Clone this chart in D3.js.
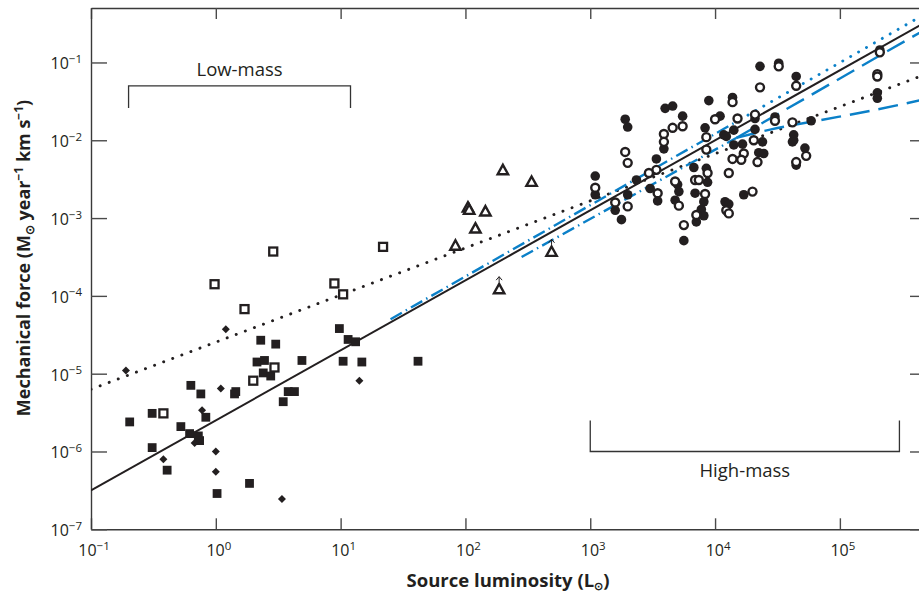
<!DOCTYPE html>
<html>
<head>
<meta charset="utf-8">
<script src="https://cdn.jsdelivr.net/npm/d3@7"></script>
<style>
  body { margin: 0; background: #fff; }
  svg { display: block; font-family: "Open Sans", "Noto Sans", sans-serif; }
</style>
</head>
<body>
<svg id="chart" width="919" height="595"></svg>
<script>
// All source values are [log10 L (Lsun), log10 F (Msun yr^-1 km s^-1)].

// Low-mass sources
const lowFilledSquares = [
  [-0.69,-5.62],[-0.51,-5.51],[-0.51,-5.95],[-0.39,-6.24],[-0.28,-5.68],[-0.20,-5.15],
  [-0.12,-5.26],[-0.21,-5.77],[-0.14,-5.80],[-0.13,-5.86],[-0.08,-5.56],[0.01,-6.54],
  [0.15,-5.26],[0.16,-5.23],[0.27,-6.41],[0.36,-4.57],[0.48,-4.62],[0.33,-4.85],
  [0.39,-4.83],[0.38,-4.99],[0.44,-5.03],[0.54,-5.36],[0.58,-5.23],[0.63,-5.23],
  [0.69,-4.83],[0.99,-4.42],[1.06,-4.56],[1.12,-4.59],[1.02,-4.84],[1.17,-4.85],
  [1.62,-4.84]
];
const lowOpenSquares = [
  [-0.42,-5.51],[-0.01,-3.85],[0.23,-4.17],[0.30,-5.09],[0.46,-3.43],[0.47,-4.92],
  [0.95,-3.84],[1.02,-3.98],[1.34,-3.37]
];
const lowDiamonds = [
  [-0.72,-4.96],[-0.42,-6.10],[-0.11,-5.47],[-0.17,-5.89],[0.04,-5.19],[0.00,-6.00],
  [0.00,-6.26],[0.08,-4.43],[0.53,-6.61],[1.15,-5.09]
];

// Intermediate sources (open triangles); the last two are lower limits
const midTriangles = [
  [1.92,-3.36],[2.02,-2.87],[2.03,-2.90],[2.08,-3.14],[2.16,-2.92],[2.30,-2.39],[2.53,-2.54]
];
const midTriangleLimits = [
  [2.27,-3.92],[2.69,-3.44]
];

// High-mass sources
const highFilledCircles = [
  [4.36,-1.05],[4.51,-1.01],[4.65,-1.18],[5.32,-0.84],[5.30,-1.39],[5.30,-1.46],
  [3.28,-1.73],[3.30,-1.83],[3.60,-1.59],[3.66,-1.56],[3.74,-1.69],[3.95,-1.49],
  [4.14,-1.45],[3.59,-2.11],[3.53,-2.24],[3.37,-2.51],[3.04,-2.46],[3.04,-2.70],
  [3.20,-2.90],[3.25,-3.02],[3.30,-2.70],[3.48,-2.62],[3.54,-2.78],[3.70,-2.57],
  [3.71,-2.66],[3.68,-2.77],[3.75,-3.29],[3.83,-2.35],[3.84,-2.68],[3.91,-2.79],
  [3.89,-2.89],[3.91,-2.97],[3.85,-3.05],[3.93,-2.36],[3.94,-2.54],[3.92,-1.84],
  [4.04,-1.69],[4.07,-1.93],[4.09,-1.95],[4.15,-1.87],[4.15,-2.06],[4.22,-2.05],
  [4.32,-1.72],[4.32,-1.86],[4.38,-2.02],[4.35,-2.16],[4.39,-2.17],[4.08,-2.79],
  [4.11,-2.82],[4.23,-2.70],[4.48,-1.70],[4.63,-1.93],[4.63,-2.00],[4.62,-2.02],
  [4.77,-1.75],[4.72,-2.10],[4.65,-2.32]
];
const highOpenCircles = [
  [4.51,-1.05],[4.65,-1.30],[4.36,-1.32],[5.32,-0.87],[5.30,-1.15],[5.30,-1.18],
  [4.14,-1.51],[3.59,-1.92],[3.66,-1.84],[3.74,-1.82],[3.59,-2.02],[3.28,-2.15],
  [3.30,-2.29],[3.53,-2.38],[3.47,-2.42],[3.04,-2.61],[3.20,-2.80],[3.30,-2.85],
  [3.54,-2.68],[3.68,-2.53],[3.71,-2.84],[3.75,-3.09],[3.84,-2.51],[3.87,-2.51],
  [3.92,-2.69],[3.85,-2.96],[3.94,-2.42],[3.93,-2.12],[3.93,-1.96],[4.00,-1.73],
  [4.18,-1.72],[4.23,-2.17],[4.21,-2.25],[4.14,-2.24],[4.32,-1.67],[4.31,-2.00],
  [4.34,-2.28],[4.11,-2.42],[4.09,-2.90],[4.11,-2.94],[4.30,-2.66],[4.48,-1.75],
  [4.62,-1.77],[4.73,-2.20],[4.65,-2.28]
];

// Relations, as [log10 L, log10 F] vertices
const fitSolid  = [[-1.00,-6.50],[5.69,-0.48]];
const fitDotted = [[-1.00,-5.20],[5.69,-1.15]];
// Upper model track: dash-dot phase, then dotted phase
const trackUpperEarly = [[1.40,-4.30],[4.20,-1.735]];
const trackUpperLate  = [[4.20,-1.735],[5.69,-0.37]];
// Lower model track: dash-dot phase, then two dashed branches
const trackLowerEarly = [[2.45,-3.50],[4.17,-1.97]];
const trackLowerHigh  = [[4.17,-1.97],[5.69,-0.57]];
const trackLowerFlat  = [[4.17,-1.97],[4.45,-1.86],[4.85,-1.74],[5.25,-1.62],[5.69,-1.47]];

// Axis ticks (powers of ten) and the mass-regime brackets
const xTickExps = [-1, 0, 1, 2, 3, 4, 5];
const yTickExps = [-7, -6, -5, -4, -3, -2, -1];
const lowMassRange  = { label: "Low-mass",  L: [0.2, 12],  F: 5e-2, legF: 2.6e-2 };
const highMassRange = { label: "High-mass", L: [1e3, 3e5], F: 1e-6, legF: 2.5e-6 };

const svg = d3.select("#chart");
const plot = { left: 91, right: 926, top: 8, bottom: 529.3 };

const x = d3.scaleLog().domain([0.1, Math.pow(10, 5.69)]).range([plot.left, plot.right]);
const y = d3.scaleLog().domain([1e-7, Math.pow(10, -0.3)]).range([plot.bottom, plot.top]);

const px = d => x(Math.pow(10, d[0]));
const py = d => y(Math.pow(10, d[1]));

const ink = "#231f20";
const blue = "#0b80c8";

svg.append("defs").append("clipPath").attr("id", "plotClip")
  .append("rect")
  .attr("x", plot.left).attr("y", plot.top)
  .attr("width", plot.right - plot.left).attr("height", plot.bottom - plot.top);

// Axes: ticks pointing inward on all four sides
const noLabel = () => "";
const axisStyle = g => {
  g.select(".domain").attr("stroke", "#3a3a3a").attr("stroke-width", 1.4);
  g.selectAll(".tick line").attr("stroke", "#4a4a4a").attr("stroke-width", 1.4);
};
const xVals = xTickExps.map(e => Math.pow(10, e));
const yVals = yTickExps.map(e => Math.pow(10, e));

svg.append("g").attr("transform", `translate(0,${plot.bottom})`)
  .call(d3.axisBottom(x).tickValues(xVals).tickSizeInner(-11).tickSizeOuter(0).tickFormat(noLabel))
  .call(axisStyle);
svg.append("g").attr("transform", `translate(0,${plot.top})`)
  .call(d3.axisTop(x).tickValues(xVals).tickSizeInner(-11).tickSizeOuter(0).tickFormat(noLabel))
  .call(axisStyle);
svg.append("g").attr("transform", `translate(${plot.left},0)`)
  .call(d3.axisLeft(y).tickValues(yVals).tickSizeInner(-16).tickSizeOuter(0).tickFormat(noLabel))
  .call(axisStyle);
svg.append("g").attr("transform", `translate(${plot.right},0)`)
  .call(d3.axisRight(y).tickValues(yVals).tickSizeInner(-16).tickSizeOuter(0).tickFormat(noLabel))
  .call(axisStyle);

// Power-of-ten tick labels
const powLabel = (sel, exp) => {
  sel.append("tspan").text("10");
  sel.append("tspan").attr("dy", -6.5).attr("font-size", 11.5)
    .text(exp < 0 ? "\u2212" + Math.abs(exp) : String(exp));
};
svg.append("g").selectAll("text").data(xTickExps).join("text")
  .attr("x", e => x(Math.pow(10, e)) + 3).attr("y", 556)
  .attr("text-anchor", "middle").attr("font-size", 16).attr("fill", ink)
  .each(function (e) { powLabel(d3.select(this), e); });
svg.append("g").selectAll("text").data(yTickExps).join("text")
  .attr("x", 82).attr("y", e => y(Math.pow(10, e)) + 7)
  .attr("text-anchor", "end").attr("font-size", 16).attr("fill", ink)
  .each(function (e) { powLabel(d3.select(this), e); });

// Axis titles
const xt = svg.append("text").attr("x", 508).attr("y", 587)
  .attr("text-anchor", "middle").attr("font-size", 18.5).attr("font-weight", 700).attr("fill", ink);
xt.append("tspan").text("Source luminosity (L");
xt.append("tspan").attr("font-size", 11).attr("dy", 3).text("\u2299");
xt.append("tspan").attr("dy", -3).text(")");

const yt = svg.append("text").attr("transform", "translate(30,258) rotate(-90)")
  .attr("text-anchor", "middle").attr("font-size", 18).attr("font-weight", 700).attr("fill", ink);
yt.append("tspan").text("Mechanical force (M");
yt.append("tspan").attr("font-size", 12).attr("dy", 4).text("\u2299");
yt.append("tspan").attr("dy", -4).text(" year");
yt.append("tspan").attr("font-size", 12).attr("dy", -7).text("\u22121");
yt.append("tspan").attr("dy", 7).text(" km s");
yt.append("tspan").attr("font-size", 12).attr("dy", -7).text("\u22121");
yt.append("tspan").attr("dy", 7).text(")");

// Mass-regime brackets
const bracket = (r, up) => {
  const x0 = x(r.L[0]), x1 = x(r.L[1]), yb = y(r.F), yl = y(r.legF);
  svg.append("path")
    .attr("d", `M${x0},${yl}V${yb}H${x1}V${yl}`)
    .attr("fill", "none").attr("stroke", "#333").attr("stroke-width", 1.3);
  svg.append("text").attr("x", (x0 + x1) / 2).attr("y", up ? yb - 10 : yb + 26)
    .attr("text-anchor", "middle").attr("font-size", 18.5).attr("fill", ink).text(r.label);
};
bracket(lowMassRange, true);
bracket(highMassRange, false);

// Relations
const lines = svg.append("g").attr("clip-path", "url(#plotClip)");
const lineGen = d3.line().x(px).y(py).curve(d3.curveMonotoneX);
const drawLine = (data, color, width, dash, cap) => {
  lines.append("path").datum(data).attr("d", lineGen)
    .attr("fill", "none").attr("stroke", color).attr("stroke-width", width)
    .attr("stroke-dasharray", dash).attr("stroke-linecap", cap || "butt");
};
drawLine(fitDotted, ink, 2.9, "0.1 9.6", "round");
drawLine(trackUpperEarly, blue, 2.4, "13 4.5 1.5 4.5");
drawLine(trackUpperLate, blue, 2.9, "0.1 9", "round");
drawLine(trackLowerEarly, blue, 2.4, "13 4.5 1.5 4.5");
drawLine(trackLowerHigh, blue, 2.4, "20 9");
drawLine(trackLowerFlat, blue, 2.4, "20 9");
drawLine(fitSolid, ink, 2, null);

// Markers
const marks = svg.append("g");
marks.selectAll(".fsq").data(lowFilledSquares).join("rect")
  .attr("x", d => px(d) - 4.4).attr("y", d => py(d) - 4.4)
  .attr("width", 8.8).attr("height", 8.8).attr("fill", ink);
marks.selectAll(".osq").data(lowOpenSquares).join("rect")
  .attr("x", d => px(d) - 4).attr("y", d => py(d) - 4)
  .attr("width", 8).attr("height", 8).attr("fill", "#fff")
  .attr("stroke", ink).attr("stroke-width", 2.3);
marks.selectAll(".dia").data(lowDiamonds).join("path")
  .attr("transform", d => `translate(${px(d)},${py(d)})`)
  .attr("d", "M0,-4L4,0L0,4L-4,0Z").attr("fill", ink);

const tri = "M0,-5.8L5.2,3.6L-5.2,3.6Z";
marks.selectAll(".tri").data(midTriangles.concat(midTriangleLimits)).join("path")
  .attr("transform", d => `translate(${px(d)},${py(d)})`)
  .attr("d", tri).attr("fill", "#fff").attr("stroke", ink)
  .attr("stroke-width", 2.4).attr("stroke-linejoin", "miter");
marks.selectAll(".arr").data(midTriangleLimits).join("path")
  .attr("transform", d => `translate(${px(d)},${py(d)})`)
  .attr("d", "M0,-7.5V-13M-3,-9.5L0,-13L3,-9.5")
  .attr("fill", "none").attr("stroke", ink).attr("stroke-width", 1);

marks.selectAll(".fci").data(highFilledCircles).join("circle")
  .attr("cx", px).attr("cy", py).attr("r", 4.8).attr("fill", ink);
marks.selectAll(".oci").data(highOpenCircles).join("circle")
  .attr("cx", px).attr("cy", py).attr("r", 4)
  .attr("fill", "#fff").attr("stroke", ink).attr("stroke-width", 2.4);
</script>
</body>
</html>
